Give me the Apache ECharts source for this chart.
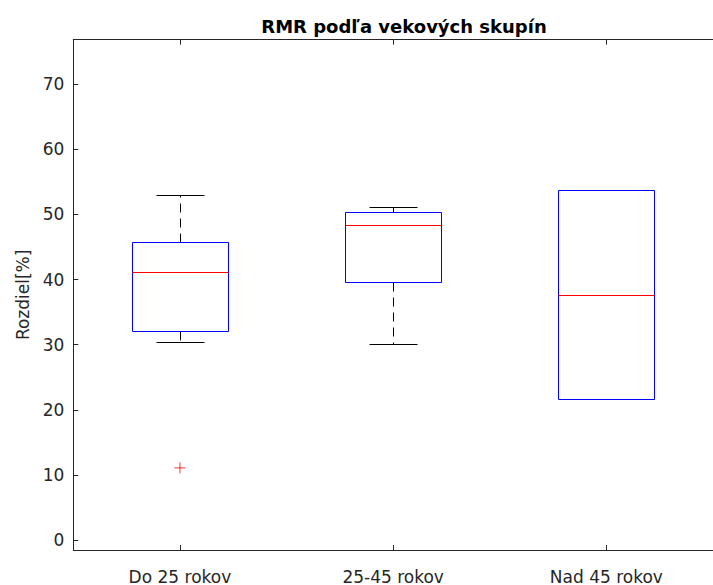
<!DOCTYPE html>
<html>
<head>
<meta charset="utf-8">
<script src="https://cdn.jsdelivr.net/npm/echarts@6/dist/echarts.min.js"></script>
<style>
html,body{margin:0;padding:0;background:#fff;}
#chart{width:713px;height:585px;}
</style>
</head>
<body>
<div id="chart"></div>
<script>
const titleText = 'RMR podľa vekových skupín';
const yAxisName = 'Rozdiel[%]';
const categories = ['Do 25 rokov', '25-45 rokov', 'Nad 45 rokov'];
const lowWhisker = [30.4, 30.1, 21.6];
const q1 = [32.1, 39.6, 21.6];
const median = [41.1, 48.4, 37.6];
const q3 = [45.8, 50.4, 53.7];
const highWhisker = [52.9, 51.2, 53.7];
const outlierCategory = ['Do 25 rokov'];
const outlierValue = [11.1];
const yTicks = [0, 10, 20, 30, 40, 50, 60, 70];

const FONT = 'DejaVu Sans';
const AX = '#262626';

const boxData = categories.map((c, i) => [i, lowWhisker[i], q1[i], median[i], q3[i], highWhisker[i]]);
const outlierData = outlierCategory.map((c, i) => [c, outlierValue[i]]);

function renderBox(params, api) {
  const idx = api.value(0);
  const pLo = api.coord([idx, api.value(1)]);
  const pQ1 = api.coord([idx, api.value(2)]);
  const pMed = api.coord([idx, api.value(3)]);
  const pQ3 = api.coord([idx, api.value(4)]);
  const pHi = api.coord([idx, api.value(5)]);
  const band = api.size([1, 0])[0];
  const r = v => Math.round(v) + 0.5;
  const cx = r(pQ1[0]);
  const hb = Math.round(band * 0.225);
  const hc = Math.round(band * 0.1125);
  const yLo = r(pLo[1]), yQ1 = r(pQ1[1]), yMed = r(pMed[1]), yQ3 = r(pQ3[1]), yHi = r(pHi[1]);
  const xl = cx - hb, xr = cx + hb;
  const children = [];
  if (yHi < yQ3) {
    children.push({ type: 'polyline', name: 'uw', shape: { points: [[cx, yQ3], [cx, yHi]] },
      style: { fill: null, stroke: '#000000', lineWidth: 1, lineDash: [9, 6] } });
  }
  if (yLo > yQ1) {
    children.push({ type: 'polyline', name: 'lw', shape: { points: [[cx, yQ1], [cx, yLo]] },
      style: { fill: null, stroke: '#000000', lineWidth: 1, lineDash: [9, 6] } });
  }
  children.push({ type: 'polyline', name: 'uc', shape: { points: [[cx - hc, yHi], [cx + hc, yHi]] },
    style: { fill: null, stroke: '#000000', lineWidth: 1 } });
  children.push({ type: 'polyline', name: 'lc', shape: { points: [[cx - hc, yLo], [cx + hc, yLo]] },
    style: { fill: null, stroke: '#000000', lineWidth: 1 } });
  children.push({ type: 'polyline', name: 'box', shape: { points: [[xl, yQ3], [xr, yQ3], [xr, yQ1], [xl, yQ1], [xl, yQ3]] },
    style: { fill: null, stroke: '#0000ff', lineWidth: 1 } });
  children.push({ type: 'polyline', name: 'med', shape: { points: [[xl, yMed], [xr, yMed]] },
    style: { fill: null, stroke: '#ff0000', lineWidth: 1 } });
  return { type: 'group', children: children };
}

const chart = echarts.init(document.getElementById('chart'), null, { renderer: 'svg' });
chart.setOption({
  animation: false,
  backgroundColor: '#fff',
  title: {
    text: titleText,
    left: 399,
    top: 12,
    textAlign: 'center',
    textStyle: { fontFamily: FONT, fontSize: 18, fontWeight: 'bold', color: '#000' }
  },
  grid: { left: 73.3, top: 39.7, width: 651.2, height: 513.3, containLabel: false },
  xAxis: [{
    type: 'category',
    data: categories,
    boundaryGap: true,
    position: 'bottom',
    axisLine: { onZero: false, lineStyle: { color: AX, width: 1 } },
    axisTick: { show: true, inside: true, alignWithLabel: true, length: 5, lineStyle: { color: AX } },
    axisLabel: { color: AX, fontFamily: FONT, fontSize: 17, margin: 18 },
    splitLine: { show: false }
  }, {
    type: 'category',
    data: categories,
    position: 'top',
    boundaryGap: true,
    axisLine: { onZero: false, lineStyle: { color: AX, width: 1 } },
    axisTick: { show: true, inside: true, alignWithLabel: true, length: 5, lineStyle: { color: AX } },
    axisLabel: { show: false },
    splitLine: { show: false }
  }],
  yAxis: [{
    type: 'value',
    min: -1.5,
    max: 76.8,
    name: yAxisName,
    nameLocation: 'middle',
    nameRotate: 90,
    nameGap: 40,
    nameTextStyle: { fontFamily: FONT, fontSize: 17, color: AX },
    axisLine: { show: true, onZero: false, lineStyle: { color: AX, width: 1 } },
    axisTick: { show: true, inside: true, length: 5, customValues: yTicks, lineStyle: { color: AX } },
    axisLabel: { color: AX, fontFamily: FONT, fontSize: 17, margin: 9, customValues: yTicks },
    splitLine: { show: false }
  }],
  series: [{
    type: 'custom',
    renderItem: renderBox,
    data: boxData,
    encode: { x: 0, y: [1, 2, 3, 4, 5] },
    clip: false,
    silent: true
  }, {
    type: 'scatter',
    data: outlierData,
    symbol: 'path://M0,5L10,5M5,0L5,10',
    symbolSize: 11,
    itemStyle: { color: 'rgba(0,0,0,0)', borderColor: '#ff0000', borderWidth: 1 },
    silent: true
  }]
});
</script>
</body>
</html>
